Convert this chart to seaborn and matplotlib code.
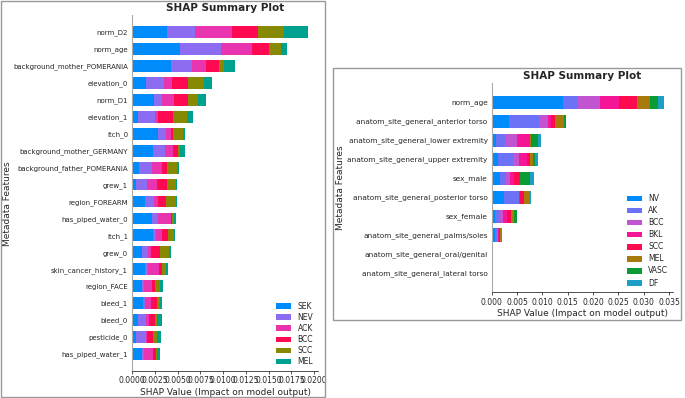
import numpy as np
import pandas as pd
import matplotlib.pyplot as plt
import seaborn as sb
from matplotlib.patches import Rectangle
from matplotlib.ticker import MultipleLocator

# left panel: 6 classes
features_1 = ['norm_D2', 'norm_age', 'background_mother_POMERANIA', 'elevation_0', 'norm_D1',
              'elevation_1', 'itch_0', 'background_mother_GERMANY', 'background_father_POMERANIA',
              'grew_1', 'region_FOREARM', 'has_piped_water_0', 'itch_1', 'grew_0',
              'skin_cancer_history_1', 'region_FACE', 'bleed_1', 'bleed_0', 'pesticide_0',
              'has_piped_water_1']
classes_1 = ['SEK', 'NEV', 'ACK', 'BCC', 'SCC', 'MEL']
colors_1 = ['#008bfb', '#8c6cf0', '#e834ae', '#ff0a52', '#878a00', '#00a08e']
sek = [0.00381, 0.00527, 0.00421, 0.00154, 0.00238, 0.00066, 0.00286, 0.00231, 0.00077, 0.00044,
       0.00143, 0.00217, 0.00231, 0.00110, 0.00143, 0.00103, 0.00114, 0.00066, 0.00037, 0.00110]
nev = [0.00311, 0.00451, 0.00238, 0.00198, 0.00084, 0.00187, 0.00084, 0.00132, 0.00143, 0.00114,
       0.00092, 0.00062, 0.00033, 0.00066, 0.00026, 0.00029, 0.00029, 0.00088, 0.00110, 0.00022]
ack = [0.00407, 0.00341, 0.00154, 0.00088, 0.00139, 0.00033, 0.00055, 0.00084, 0.00106, 0.00114,
       0.00051, 0.00143, 0.00059, 0.00033, 0.00128, 0.00081, 0.00062, 0.00033, 0.00018, 0.00099]
bcc = [0.00282, 0.00179, 0.00136, 0.00168, 0.00147, 0.00165, 0.00026, 0.00051, 0.00059, 0.00110,
       0.00084, 0.00011, 0.00070, 0.00095, 0.00029, 0.00040, 0.00062, 0.00066, 0.00059, 0.00026]
scc = [0.00286, 0.00139, 0.00059, 0.00179, 0.00110, 0.00147, 0.00103, 0.00026, 0.00106, 0.00099,
       0.00110, 0.00029, 0.00062, 0.00099, 0.00044, 0.00055, 0.00040, 0.00018, 0.00051, 0.00015]
mel = [0.00264, 0.00062, 0.00117, 0.00088, 0.00092, 0.00073, 0.00026, 0.00055, 0.00022, 0.00011,
       0.00011, 0.00018, 0.00018, 0.00026, 0.00026, 0.00033, 0.00022, 0.00059, 0.00044, 0.00037]

# right panel: 8 classes
features_2 = ['norm_age', 'anatom_site_general_anterior torso', 'anatom_site_general_lower extremity',
              'anatom_site_general_upper extremity', 'sex_male', 'anatom_site_general_posterior torso',
              'sex_female', 'anatom_site_general_palms/soles', 'anatom_site_general_oral/genital',
              'anatom_site_general_lateral torso']
classes_2 = ['NV', 'AK', 'BCC', 'BKL', 'SCC', 'MEL', 'VASC', 'DF']
colors_2 = ['#008bfb', '#6c72f5', '#c354d1', '#f51597', '#ff0a4f', '#a87a0b', '#0b9b35', '#1b9fc5']
nv = [0.01412, 0.00335, 0.00079, 0.00131, 0.00158, 0.00243, 0.00053, 0.00072, 0, 0]
ak = [0.00289, 0.00598, 0.00184, 0.00289, 0.00131, 0.00295, 0.00105, 0.00026, 0, 0]
bcc2 = [0.00433, 0.00184, 0.00243, 0.00112, 0.00079, 0.00005, 0.00053, 0.00026, 0, 0]
bkl = [0.00368, 0.00059, 0.00243, 0.00158, 0.00079, 0.00005, 0.00085, 0.00020, 0, 0]
scc2 = [0.00355, 0.00066, 0.00010, 0.00066, 0.00105, 0.00085, 0.00079, 0.00013, 0, 0]
mel2 = [0.00263, 0.00184, 0.00010, 0.00053, 0.00013, 0.00125, 0.00072, 0.00020, 0, 0]
vasc = [0.00164, 0.00033, 0.00151, 0.00046, 0.00190, 0.00005, 0.00053, 0.00013, 0, 0]
df_ = [0.00112, 0.00000, 0.00053, 0.00053, 0.00079, 0.00013, 0.00000, 0.00007, 0, 0]

sb.set_theme(style='white')
plt.rcParams['font.family'] = ['DejaVu Sans']


def shap_bars(ax, features, classes, colors, values, xmax, step, ytick_fs, leg_space):
    table = pd.DataFrame(dict(zip(classes, values)), index=features)
    cum = table.cumsum(axis=1)
    # draw longest cumulative first so shorter segments sit on top
    for cls, col in zip(classes[::-1], colors[::-1]):
        d = pd.DataFrame({'feature': features, 'value': cum[cls].values})
        sb.barplot(data=d, x='value', y='feature', order=features, color=col, width=0.7,
                   saturation=1, linewidth=0, label=cls, ax=ax, orient='h')
    h, l = ax.get_legend_handles_labels()
    ax.legend(h[::-1], l[::-1], loc='lower right', frameon=False,
              fontsize=5.5, handlelength=2.0, handleheight=0.75, labelspacing=leg_space,
              borderaxespad=0.2)
    ax.set_xlim(0, xmax)
    ax.set_ylim(len(features), -1)
    ax.xaxis.set_major_locator(MultipleLocator(step))
    ax.set_title('SHAP Summary Plot', fontsize=7.5, fontweight='bold', pad=3)
    ax.set_xlabel('SHAP Value (Impact on model output)', fontsize=6.5, labelpad=2)
    ax.set_ylabel('Metadata Features', fontsize=6.5)
    ax.tick_params(axis='x', labelsize=5.5, length=2.5, width=0.6, pad=1.5, bottom=True, color='#333333')
    ax.tick_params(axis='y', labelsize=ytick_fs, length=0, pad=3)
    for s in ['top', 'right']:
        ax.spines[s].set_visible(False)
    ax.spines['left'].set_color('#aaaaaa')
    ax.spines['left'].set_linewidth(0.8)
    ax.spines['bottom'].set_color('#333333')
    ax.spines['bottom'].set_linewidth(0.6)


fig = plt.figure(figsize=(6.85, 3.98), dpi=100)

ax1 = fig.add_axes([0.193, 0.068, 0.271, 0.894])
shap_bars(ax1, features_1, classes_1, colors_1, [sek, nev, ack, bcc, scc, mel],
          0.0204, 0.0025, 5.0, 0.28)
ax1.yaxis.set_label_coords(-0.645, 0.47)

ax2 = fig.add_axes([0.718, 0.266, 0.264, 0.525])
shap_bars(ax2, features_2, classes_2, colors_2, [nv, ak, bcc2, bkl, scc2, mel2, vasc, df_],
          0.0357, 0.005, 5.3, 0.4)
ax2.yaxis.set_label_coords(-0.81, 0.5)

# panel frames
fig.patches.append(Rectangle((1 / 685, 1 / 398), 324 / 685, 396 / 398, transform=fig.transFigure,
                             fill=False, edgecolor='#999999', linewidth=1))
fig.patches.append(Rectangle((333 / 685, 78 / 398), 348 / 685, 252 / 398, transform=fig.transFigure,
                             fill=False, edgecolor='#999999', linewidth=1))

plt.savefig('out.png', dpi=100)
